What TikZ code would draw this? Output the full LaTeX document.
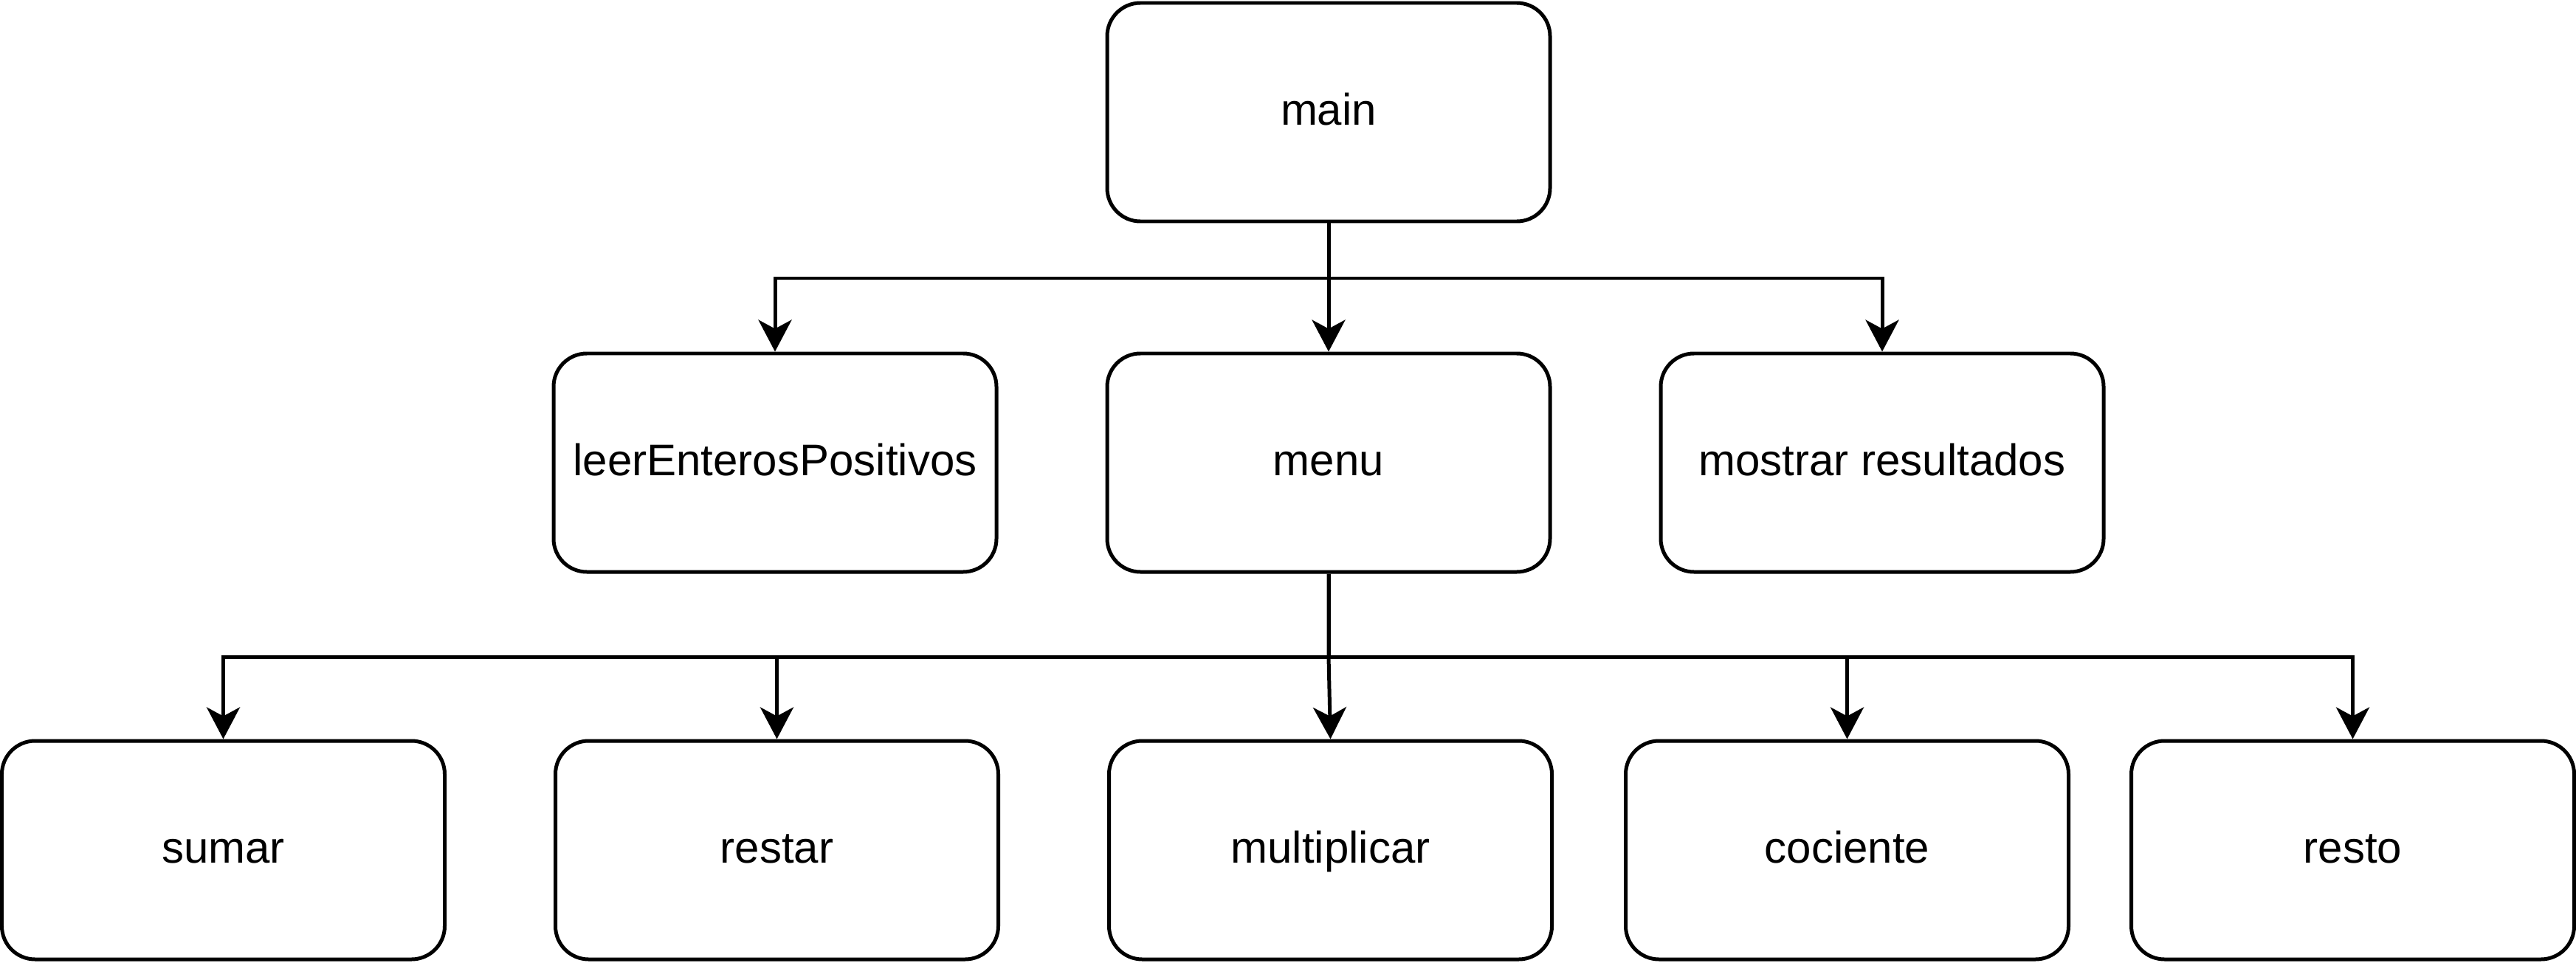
\documentclass[tikz,border=0pt]{standalone}
\usepackage{fontspec}
\setmainfont{Liberation Sans}
\usepackage {tikz}
\usetikzlibrary {positioning}
\usetikzlibrary{arrows.meta}

\begin{document}
\begin{tikzpicture}[-{Stealth[length=4.3mm,width=4.5mm,inset=1.2mm]} ,node distance =4.75 cm and 7.5cm ,on grid ,
  line width=1.42pt ,
  func/.style ={ rectangle, rounded corners=0.45cm,
  draw = black, fill = white, text = black, minimum width = 6 cm, minimum height = 2.96 cm,
  text height = 1.2em, text depth = 0.2em,
  font=\fontsize{17.07}{20}\selectfont}]
  \useasboundingbox (0,0) rectangle (34.9,-13.05);
  % first level
  \node[func] (main) at (18,-1.52) {main};
  \node[func] (leer) [below left=of main] {leerEnterosPositivos};
  \node[func] (menu) [below=of main] {menu};
  \node[func] (mostrar) [below right=of main] {mostrar resultados};
  % operations called from menu
  \node[func] (sumar) at (3.025,-11.52) {sumar};
  \node[func] (restar) [right=of sumar] {restar};
  \node[func] (multiplicar) [right=of restar] {multiplicar};
  \node[func] (cociente) [right=7cm of multiplicar] {cociente};
  \node[func] (resto) [right=6.85cm of cociente] {resto};
  \coordinate (mainbus) at (main.south |- 0,-3.77);
  \coordinate (menubus) at (menu.south |- 0,-8.90);
  \draw (main.south) -- (mainbus) -| (leer.north);
  \draw (main.south) -- (menu.north);
  \draw (main.south) -- (mainbus) -| (mostrar.north);
  \draw (menu.south) -- (menubus) -| (sumar.north);
  \draw (menu.south) -- (menubus) -| (restar.north);
  \draw (menu.south) -- (menubus) -- (multiplicar.north);
  \draw (menu.south) -- (menubus) -| (cociente.north);
  \draw (menu.south) -- (menubus) -| (resto.north);
\end{tikzpicture}
\end{document}
